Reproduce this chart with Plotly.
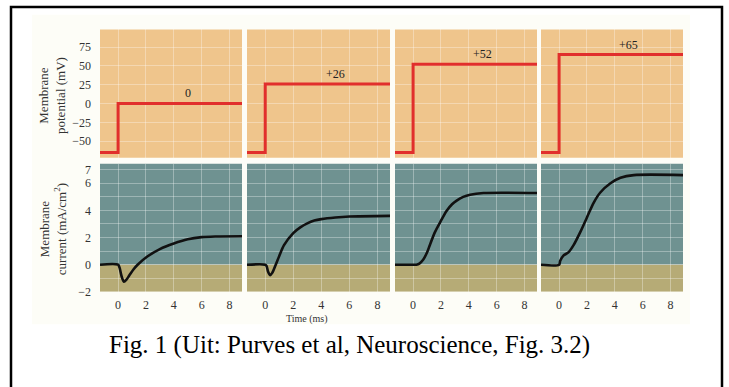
import plotly.graph_objects as go

# ---------------- data ----------------
step_voltages = [0, 26, 52, 65]            # mV, command steps
step_labels = ["0", "+26", "+52", "+65"]
holding_potential = -65                     # mV
step_time = 0.0                             # ms
t_start, t_end = -1.3, 8.9                  # ms

current_t = [
    [-1.3, 0.0, 0.1, 0.25, 0.42, 0.6, 0.8, 1.1, 1.4, 2.1, 3.0, 4.0, 5.0, 6.0, 7.0, 8.9],
    [-1.3, 0.0, 0.1, 0.2, 0.35, 0.5, 0.75, 1.0, 1.34, 2.0, 2.5, 3.0, 3.5, 4.0, 5.0, 6.0, 8.9],
    [-1.3, 0.0, 0.24, 0.45, 0.72, 1.0, 1.2, 1.57, 1.93, 2.4, 2.8, 3.13, 3.6, 4.1, 5.06, 8.9],
    [-1.3, 0.0, 0.08, 0.31, 0.67, 1.04, 1.52, 2.0, 2.48, 2.96, 3.69, 4.41, 5.37, 8.9],
]
current_i = [
    [0, 0, -0.2, -0.85, -1.25, -1.1, -0.8, -0.35, 0.0, 0.6, 1.15, 1.56, 1.87, 2.03, 2.08, 2.1],
    [0, 0, -0.1, -0.5, -0.77, -0.6, 0.0, 0.65, 1.44, 2.33, 2.75, 3.05, 3.25, 3.36, 3.48, 3.55, 3.6],
    [0, 0, 0, 0.08, 0.36, 0.9, 1.44, 2.4, 3.1, 3.96, 4.45, 4.72, 5.0, 5.16, 5.28, 5.28],
    [0, 0, 0.29, 0.67, 0.91, 1.44, 2.4, 3.48, 4.56, 5.32, 6.0, 6.4, 6.6, 6.6],
]

v_ticks = [75, 50, 25, 0, -25, -50]
v_ticktext = ["75", "50", "25", "0", "\u221225", "\u221250"]
i_ticks = [-2, -1, 0, 1, 2, 3, 4, 5, 6, 7]
i_ticktext = ["\u22122", "", "0", "", "2", "", "4", "", "6", "7"]
t_ticks = [0, 2, 4, 6, 8]
t_ticktext = ["0", "2", "4", "6", "8"]

v_range = [-72, 98.4]
i_range = [-2, 7.45]

# ---------------- layout geometry ----------------
W, H = 729, 387
col_px = [(100, 242), (247, 390), (395, 537), (541, 683)]
top_px = (29, 160)
bot_px = (166, 297)

def xd(a, b):
    return [a / W, b / W]

def yd(top, bottom):
    return [1 - bottom / H, 1 - top / H]

def sfx(n):
    return "" if n == 1 else str(n)

SERIF = "Liberation Serif"
ORANGE = "#EFC58C"
TEAL = "#6F9291"
KHAKI = "#B6AB76"
GRID = "rgba(255,255,255,0.32)"

fig = go.Figure()
layout = dict(
    width=W, height=H,
    margin=dict(l=0, r=0, t=0, b=0),
    paper_bgcolor="white",
    plot_bgcolor="rgba(0,0,0,0)",
    showlegend=False,
    font=dict(family=SERIF, color="#333333", size=12),
)
shapes = []
annotations = []

for c in range(4):
    nt = sfx(1 + c)
    nb = sfx(5 + c)
    # top (voltage) panel
    fig.add_trace(go.Scatter(
        x=[t_start, step_time, t_end],
        y=[holding_potential, step_voltages[c], step_voltages[c]],
        mode="lines", line=dict(color="#E12F2C", width=3, shape="hv"),
        xaxis=f"x{nt}", yaxis=f"y{nt}", hoverinfo="skip"))
    # bottom (current) panel
    fig.add_trace(go.Scatter(
        x=current_t[c], y=current_i[c],
        mode="lines", line=dict(color="#111111", width=2.6, shape="spline", smoothing=0.8),
        xaxis=f"x{nb}", yaxis=f"y{nb}", hoverinfo="skip"))

    common_x = dict(range=[t_start, t_end], tickvals=t_ticks, ticktext=t_ticktext,
                    showgrid=True, gridcolor=GRID, gridwidth=1.2, zeroline=False,
                    showline=False, ticks="", fixedrange=True,
                    domain=xd(*col_px[c]))
    layout[f"xaxis{nt}"] = dict(common_x, anchor=f"y{nt}", showticklabels=False)
    layout[f"xaxis{nb}"] = dict(common_x, anchor=f"y{nb}", showticklabels=True,
                                ticklabelstandoff=4,
                                tickfont=dict(family=SERIF, size=12, color="#333333"))
    layout[f"yaxis{nt}"] = dict(range=v_range, tickvals=v_ticks, ticktext=v_ticktext,
                                showgrid=True, gridcolor=GRID, gridwidth=1.2, zeroline=False,
                                showline=False, ticks="", showticklabels=(c == 0),
                                ticklabelstandoff=8, fixedrange=True,
                                tickfont=dict(family=SERIF, size=12, color="#333333"),
                                anchor=f"x{nt}", domain=yd(*top_px))
    layout[f"yaxis{nb}"] = dict(range=i_range, tickvals=i_ticks, ticktext=i_ticktext,
                                showgrid=True, gridcolor=GRID, gridwidth=1.2, zeroline=False,
                                showline=False, ticks="", showticklabels=(c == 0),
                                ticklabelstandoff=8, fixedrange=True,
                                tickfont=dict(family=SERIF, size=12, color="#333333"),
                                anchor=f"x{nb}", domain=yd(*bot_px))

    # backgrounds
    shapes.append(dict(type="rect", xref=f"x{nt} domain", yref=f"y{nt} domain",
                       x0=0, x1=1, y0=0, y1=1, fillcolor=ORANGE, line_width=0, layer="below"))
    shapes.append(dict(type="rect", xref=f"x{nb} domain", yref=f"y{nb}",
                       x0=0, x1=1, y0=0, y1=i_range[1], fillcolor=TEAL, line_width=0, layer="below"))
    shapes.append(dict(type="rect", xref=f"x{nb} domain", yref=f"y{nb}",
                       x0=0, x1=1, y0=i_range[0], y1=0, fillcolor=KHAKI, line_width=0, layer="below"))

    # step labels
    annotations.append(dict(x=5.0, y=step_voltages[c], xref=f"x{nt}", yref=f"y{nt}",
                            text=step_labels[c], showarrow=False, yanchor="bottom",
                            xanchor="center", yshift=1,
                            font=dict(family=SERIF, size=12, color="#222222")))

# cream backdrop and black frame
shapes.insert(0, dict(type="rect", xref="paper", yref="paper",
                      x0=32 / W, x1=690 / W, y0=1 - 330 / H, y1=1 - 14 / H,
                      fillcolor="#FDFDF7", line_width=0, layer="below"))
shapes.append(dict(type="rect", xref="paper", yref="paper",
                   x0=11 / W, x1=722 / W, y0=-0.05, y1=1 - 6 / H,
                   line=dict(color="black", width=2.5), fillcolor="rgba(0,0,0,0)", layer="above"))

# axis titles
annotations.append(dict(x=52 / W, y=1 - 97 / H, xref="paper", yref="paper",
                        xanchor="center", yanchor="middle",
                        text="Membrane<br>potential (mV)", textangle=-90, showarrow=False,
                        font=dict(family=SERIF, size=13, color="#333333")))
annotations.append(dict(x=53 / W, y=1 - 233 / H, xref="paper", yref="paper",
                        xanchor="center", yanchor="middle",
                        text="Membrane<br>current (mA/cm<sup>2</sup>)", textangle=-90,
                        showarrow=False, font=dict(family=SERIF, size=13, color="#333333")))
annotations.append(dict(x=307 / W, y=1 - 325 / H, xref="paper", yref="paper",
                        xanchor="center", yanchor="middle",
                        text="Time (ms)", showarrow=False,
                        font=dict(family=SERIF, size=10, color="#333333")))
annotations.append(dict(x=349 / W, y=1 - 351 / H, xref="paper", yref="paper",
                        xanchor="center", yanchor="middle",
                        text="Fig. 1 (Uit: Purves et al, Neuroscience, Fig. 3.2)",
                        showarrow=False,
                        font=dict(family="Liberation Serif", size=25, color="black")))

layout["shapes"] = shapes
layout["annotations"] = annotations
fig.update_layout(**layout)

page_js = (
    "var s=document.documentElement.style, b=document.body.style;"
    "b.margin='0'; b.padding='0'; b.overflow='hidden'; b.height='387px';"
    "s.overflow='hidden'; s.height='387px';"
)
fig.write_html("out.html", config={"displayModeBar": False}, post_script=page_js)
